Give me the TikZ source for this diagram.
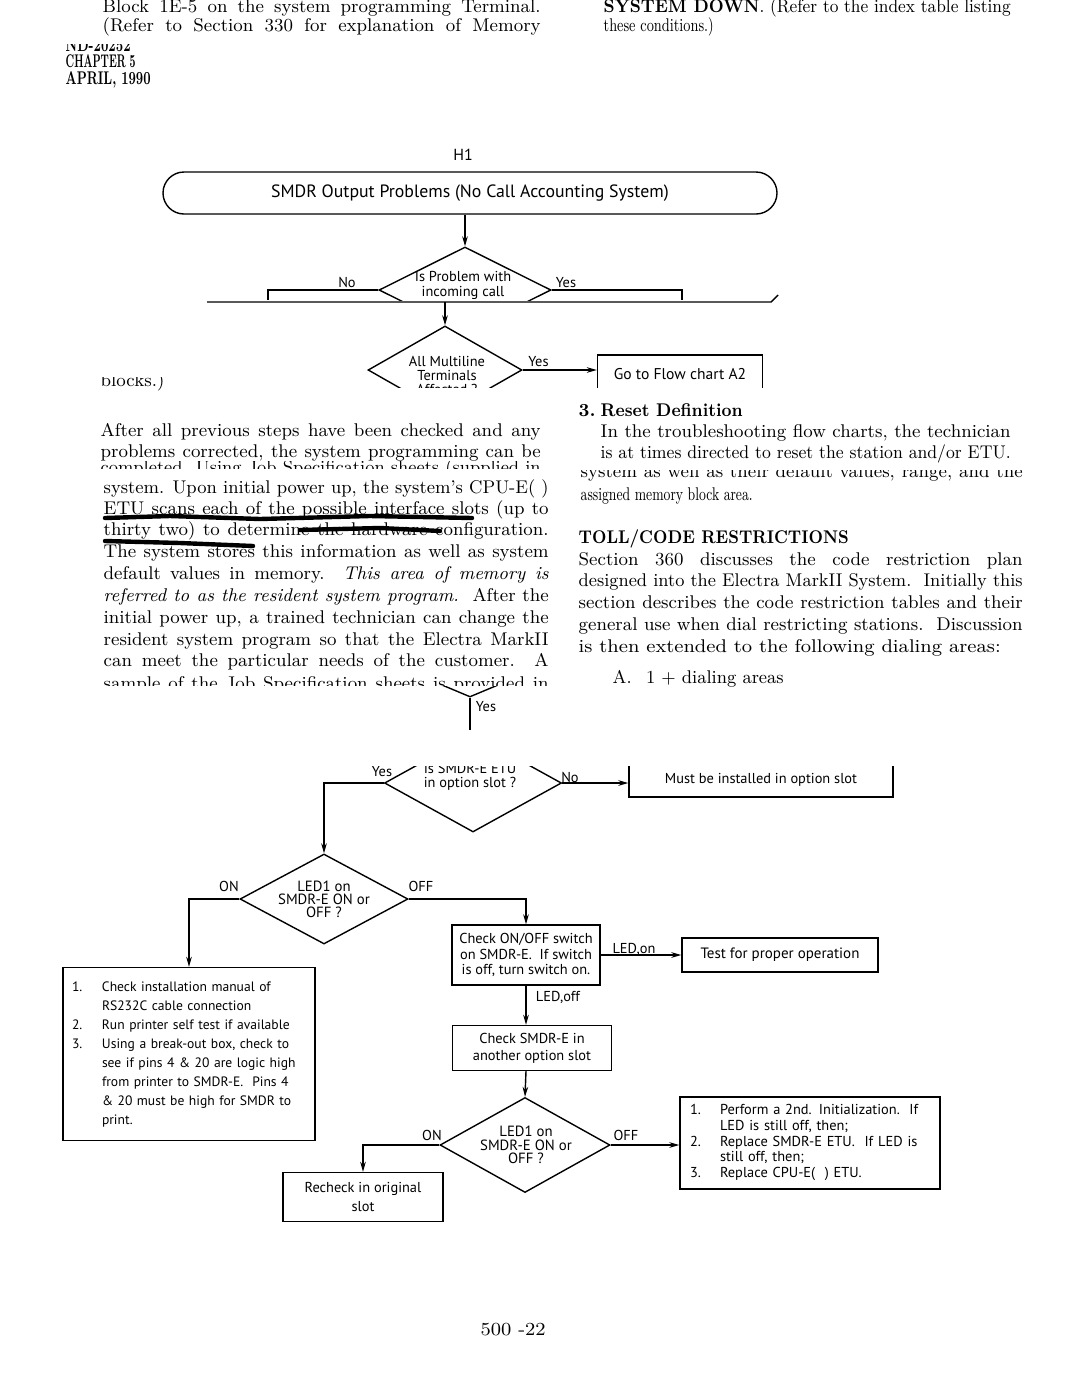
\documentclass[tikz,border=0pt]{standalone}
\usepackage{fontspec}
\usepackage{graphicx}
\newfontfamily\chartfont{PT Sans}
\usetikzlibrary{shapes.geometric,arrows.meta,positioning}
\newlength\jlw
\newcommand{\jline}[2]{\settowidth{\jlw}{#2}\ifdim\jlw>#1\relax\resizebox{#1}{\height}{#2}\else\makebox[#1][s]{#2}\fi}
\newcommand{\sline}[2]{\resizebox{#1}{\height}{#2}}
\begin{document}
\begin{tikzpicture}[x=0.5pt,y=-0.5pt,line width=0.7pt,>={Stealth[length=5pt,width=2.8pt]},
  body/.style={inner sep=0pt,anchor=base west,font=\fontsize{9.2}{11}\selectfont},
  chart/.style={inner sep=0pt,align=center,font=\chartfont\fontsize{7.2}{#1}\selectfont},chart/.default=9.5,
  proc/.style={draw,chart=#1},proc/.default=9.5,
  decision/.style={draw,diamond,inner sep=0pt},
  lbl/.style={chart,inner sep=0.5pt}]
\useasboundingbox (0,0) rectangle (1080,1398);
\node[body] (hdA) at (102,12) {\jline{219pt}{Block 1E-5 on the system programming Terminal.}};
\node[body] (hdB) at (102,31) {\jline{219pt}{(Refer to Section 330 for explanation of Memory}};
\node[body] (hdC) at (603,12) {\jline{203.5pt}{\textbf{SYSTEM DOWN}. (Refer to the index table listing}};
\node[body] (hdD) at (603,31) {\sline{55pt}{these conditions.)}};
\begin{scope}\clip (55,44) rectangle (160,53);
\node[body] (nd) at (65,51) {\jline{32.5pt}{\bfseries ND-20252}};\end{scope}
\node[body] (chap) at (65,67) {\jline{35pt}{\bfseries CHAPTER 5}};
\node[body] (apr) at (65,84) {\jline{42.5pt}{\bfseries APRIL, 1990}};
\foreach \yy/\tx [count=\i] in {436/{After all previous steps have been checked and any},457/{problems corrected, the system programming can be}}
  \node[body] (pa\i) at (100,\yy) {\jline{220pt}{\tx}};
\begin{scope}\clip (90,461.5) rectangle (560,468);
\node[body] (pc) at (100,473) {\jline{220pt}{completed. Using Job Specification sheets (supplied in}};\end{scope}
\foreach \yy/\tx [count=\i] in {493/{system. Upon initial power up, the system's CPU-E( )},514/{ETU scans each of the possible interface slots (up to},535/{thirty two) to determine the hardware configuration.},557/{The system stores this information as well as system},579/{default values in memory.\ \ \textit{This area of memory is}},601/{\textit{referred to as the resident system program.}\ \ After the},623/{initial power up, a trained technician can change the},645/{resident system program so that the Electra MarkII},666/{can meet the particular needs of the customer.\ \ A}}
  \node[body] (pb\i) at (103,\yy) {\jline{222.5pt}{\tx}};
\begin{scope}\clip (90,672) rectangle (560,685);
\node[body] (ps) at (103,689) {\jline{222.5pt}{sample of the Job Specification sheets is provided in}};\end{scope}
\draw[line width=2.2pt,line cap=round] (105,518) -- (170,516) -- (260,519) -- (370,516) -- (472,518);
\draw[line width=2.2pt,line cap=round] (300,530) -- (380,528) -- (440,531);
\draw[line width=2.2pt,line cap=round] (105,541) -- (180,543) -- (253,546);
\node[body] (rn) at (578,416) {\bfseries 3.};
\node[body] (rh) at (600,416) {\jline{71pt}{\bfseries Reset Definition}};
\foreach \yy/\tx [count=\i] in {437/{In the troubleshooting flow charts, the technician},458/{is at times directed to reset the station and/or ETU.}}
  \node[body] (ra\i) at (600,\yy) {\jline{205pt}{\tx}};
\begin{scope}\clip (570,470) rectangle (1040,482);
\node[body] (rp) at (580,477) {\jline{221pt}{system as well as their default values, range, and the}};\end{scope}
\node[body] (rb) at (580,500) {\sline{86pt}{assigned memory block area.}};
\node[body] (toll) at (578,543) {\jline{135pt}{\bfseries TOLL/CODE RESTRICTIONS}};
\foreach \yy/\tx [count=\i] in {565/{Section 360 discusses the code restriction plan},586/{designed into the Electra MarkII System.\ \ Initially this},608/{section describes the code restriction tables and their},630/{general use when dial restricting stations.\ \ Discussion}}
  \node[body] (rc\i) at (578,\yy) {\jline{222pt}{\tx}};
\node[body] (rd) at (578,652) {\sline{211pt}{is then extended to the following dialing areas:}};
\node[body] (re) at (612,683) {\sline{85.5pt}{A.\hspace{0.8em}1 + dialing areas}};
\node[body] (pg) at (480,1335) {\sline{32.5pt}{500 -22}};
\begin{scope}\clip (90,377) rectangle (200,400);
\node[body] (blk) at (100,386) {\jline{32.5pt}{blocks.)}};\end{scope}
\node[chart,font=\chartfont\fontsize{8}{9}\selectfont] (h1) at (463,155) {H1};
\node[draw,rounded corners=10.5pt,minimum width=307pt,minimum height=21pt,inner sep=0pt,font=\chartfont\fontsize{8.9}{10}\selectfont] (start) at (470,193) {SMDR Output Problems (No Call Accounting System)};
\begin{scope}\clip (300,230) rectangle (640,300);
\node[decision,minimum width=86pt,minimum height=43pt] (dA) at (465,290) {};
\node[chart=7.5] (tA) at (463,285) {Is Problem with\\incoming call};\end{scope}
\draw[->] (dA.north |- start.south) -- (dA.north);
\node[lbl] (noA) at (347,282) {No}; \node[lbl] (yesA) at (566,283) {Yes};
\coordinate (nA) at (268,290); \coordinate (nB) at (268,300);
\coordinate (yA) at (682,290); \coordinate (yB) at (682,300);
\draw (dA.west) -- (nA) -- (nB); \draw (dA.east) -- (yA) -- (yB);
\coordinate (cutL) at (207,302); \coordinate (cutR) at (771,302); \coordinate (cutT) at (778,295);
\draw (cutL) -- (cutR) -- (cutT);
\begin{scope}\clip (330,320) rectangle (800,387);
\node[decision,minimum width=77pt,minimum height=44pt] (dB) at (445,370) {};
\node[chart=7] (tB) at (447,375) {All Multiline\\Terminals\\Affected ?};
\node[proc,minimum width=82.5pt,minimum height=19pt,font=\chartfont\fontsize{7.8}{9}\selectfont] (goA) at (680,374) {Go to Flow chart A2};\end{scope}
\draw[->] (dB.north |- cutL) -- (dB.north);
\node[lbl,anchor=south west] (yesB) at ([xshift=2pt,yshift=1pt]dB.east) {Yes};
\draw[->] (dB.east) -- (dB.east -| goA.west);
\begin{scope}\clip (420,686) rectangle (520,760);
\node[decision,minimum width=88pt,minimum height=37pt] (dY) at (470,660) {};\end{scope}
\coordinate (yE) at (470,730);
\draw (dY.south) -- (yE);
\node[lbl] (yesY) at (486,707) {Yes};
\begin{scope}\clip (300,766) rectangle (920,850);
\node[decision,minimum width=88.5pt,minimum height=49pt] (dC) at (473,783) {};
\node[chart=7] (tC) at (470,777) {Is SMDR-E ETU\\in option slot ?};
\node[lbl] (yesC) at (382,772) {Yes};
\node[proc,minimum width=132pt,minimum height=17pt] (must) at (761,780) {Must be installed in option slot};\end{scope}
\node[lbl] (noC) at (570,777) {No};
\draw[->] (dC.east) -- (dC.east -| must.west);
\node[decision,minimum width=84pt,minimum height=45pt] (dD) at (324,899) {};
\node[chart=6.5,font=\chartfont\fontsize{7.4}{6.5}\selectfont] (tD) at (324,899) {LED1 on\\SMDR-E ON or\\OFF ?};
\draw[->] (dC.west) -| (dD.north);
\node[lbl] (onD) at (229,886) {ON}; \node[lbl] (offD) at (421,886) {OFF};
\node[draw,inner sep=0pt,align=left,text width=117pt,inner xsep=4.5pt,minimum height=86.5pt,font=\chartfont\fontsize{6.8}{9.5}\selectfont] (box1) at (189,1054) {\begin{tabular}{@{}p{15pt}@{}l@{}}1.&Check installation manual of\\&RS232C cable connection\\2.&Run printer self test if available\\3.&Using a break-out box, check to\\&see if pins 4 \& 20 are logic high\\&from printer to SMDR-E.\ \ Pins 4\\&\& 20 must be high for SMDR to\\&print.\end{tabular}};
\node[proc=7.8,minimum width=74pt,minimum height=30pt] (chk) at (526,955) {Check ON/OFF switch\\on SMDR-E.\ \ If switch\\is off, turn switch on.};
\draw[->] (dD.west) -| (box1.north);
\draw[->] (dD.east) -| (chk.north);
\node[proc,minimum width=98pt,minimum height=17pt,font=\chartfont\fontsize{7.5}{9}\selectfont] (test) at (780,955) {Test for proper operation};
\draw[->] (chk.east) -- (test.west);
\node[lbl] (ledon) at (634,949) {LED,on};
\node[proc=8.5,minimum width=79.5pt,minimum height=22.5pt] (slot) at (532,1048) {Check SMDR-E in\\another option slot};
\draw[->] (chk.south) -- (chk.south |- slot.north);
\node[lbl] (ledoff) at (558,997) {LED,off};
\node[decision,minimum width=85pt,minimum height=47.5pt] (dE) at (525,1145) {};
\node[chart=6.7,font=\chartfont\fontsize{7.4}{6.7}\selectfont] (tE) at (526,1145) {LED1 on\\SMDR-E ON or\\OFF ?};
\draw[->] (chk.south |- slot.south) -- (dE.north);
\node[lbl] (onE) at (432,1135) {ON}; \node[lbl] (offE) at (626,1135) {OFF};
\node[proc,minimum width=80pt,minimum height=24.5pt] (orig) at (363,1197) {Recheck in original\\slot};
\draw[->] (dE.west) -| (orig.north);
\node[draw,chart=7.9,align=left,text width=120pt,inner xsep=5pt,minimum height=46pt] (last) at (810,1143) {\begin{tabular}{@{}p{15pt}@{}l@{}}1.&Perform a 2nd. Initialization.\ \ If\\&LED is still off, then;\\2.&Replace SMDR-E ETU.\ \ If LED is\\&still off, then;\\3.&Replace CPU-E(\ \ ) ETU.\end{tabular}};
\draw[->] (dE.east) -- (dE.east -| last.west);
\end{tikzpicture}
\end{document}
